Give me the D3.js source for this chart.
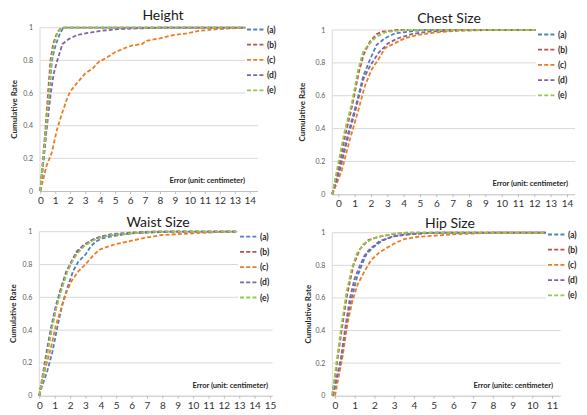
<!DOCTYPE html>
<html>
<head>
<meta charset="utf-8">
<script src="https://cdn.jsdelivr.net/npm/d3@7"></script>
<style>
  body { margin: 0; background: #fff; }
  text { font-family: Lato, "Open Sans", sans-serif; }
</style>
</head>
<body>
<div id="chart"></div>
<script>
// series names and colours
const seriesNames = ["(a)", "(b)", "(c)", "(d)", "(e)"];
const seriesColors = ["#4F81BD", "#C0504D", "#EE7B22", "#8064A2", "#92C84E"];
const yTicks = [0, 0.2, 0.4, 0.6, 0.8, 1];

// Height  (error in cm, cumulative rate)
const heightA = [[0,0],[0.22,0.2],[0.42,0.4],[0.6,0.6],[0.78,0.8],[0.95,0.87],[1.13,0.92],[1.3,0.96],[1.53,1],[13.7,1]];
const heightB = [[0,0],[0.18,0.2],[0.36,0.4],[0.52,0.6],[0.68,0.8],[0.86,0.9],[1.04,0.95],[1.2,0.98],[1.43,1],[13.7,1]];
const heightC = [[0,0],[0.07,0.025],[0.4,0.15],[0.75,0.23],[1.1,0.37],[1.43,0.47],[1.77,0.56],[2,0.61],[2.45,0.66],[3,0.72],[3.5,0.75],[3.9,0.79],[4.5,0.82],[5,0.85],[5.5,0.87],[6.1,0.89],[6.8,0.9],[7.1,0.92],[8,0.935],[8.9,0.955],[9.8,0.965],[10.6,0.98],[11.7,0.99],[12.8,0.996],[13.7,1]];
const heightD = [[0,0],[0.23,0.2],[0.45,0.4],[0.7,0.6],[0.9,0.72],[1.14,0.8],[1.48,0.9],[1.9,0.93],[2.45,0.955],[3,0.965],[4,0.98],[5,0.99],[6,0.994],[7,0.997],[8,1],[13.7,1]];
const heightE = [[0,0],[0.2,0.2],[0.4,0.4],[0.58,0.6],[0.74,0.8],[0.92,0.9],[1.12,0.96],[1.32,0.99],[1.58,1],[13.7,1]];

// Chest size
const chestA = [[-0.37,0],[0.1,0.17],[0.6,0.37],[1.1,0.55],[1.53,0.72],[1.94,0.82],[2.35,0.91],[2.86,0.95],[3.47,0.98],[4.3,0.99],[5.3,1],[12.1,1]];
const chestB = [[-0.37,0],[0.05,0.18],[0.45,0.37],[0.85,0.54],[1.25,0.74],[1.55,0.85],[1.94,0.93],[2.35,0.975],[2.7,0.99],[3.2,0.995],[3.6,1],[12.1,1]];
const chestC = [[-0.37,0],[0.2,0.14],[0.7,0.33],[1.22,0.51],[1.63,0.66],[2.04,0.76],[2.45,0.82],[2.86,0.89],[3.47,0.92],[4.08,0.95],[4.9,0.97],[5.9,0.985],[7.3,0.995],[9.4,1],[12.1,1]];
const chestD = [[-0.37,0],[0.1,0.15],[0.6,0.35],[1.1,0.53],[1.53,0.7],[1.94,0.78],[2.45,0.86],[3.06,0.92],[3.67,0.95],[4.5,0.975],[5.5,0.99],[7.3,1],[12.1,1]];
const chestE = [[-0.37,0],[0,0.19],[0.4,0.39],[0.82,0.55],[1.22,0.76],[1.53,0.87],[1.94,0.92],[2.35,0.96],[2.86,0.985],[3.5,0.995],[4.2,1],[12.1,1]];

// Waist size
const waistA = [[0,0],[0.15,0.05],[0.52,0.15],[0.86,0.27],[1.2,0.43],[1.53,0.57],[1.87,0.67],[2.2,0.76],[2.55,0.82],[3,0.86],[3.34,0.91],[3.68,0.94],[4.1,0.96],[4.9,0.975],[6,0.99],[7.2,0.995],[8.5,1],[12.8,1]];
const waistB = [[0,0],[0.42,0.22],[0.78,0.4],[1.1,0.54],[1.44,0.66],[1.78,0.75],[2.12,0.82],[2.47,0.875],[2.9,0.915],[3.45,0.95],[4,0.97],[4.7,0.98],[6,0.99],[7.5,1],[12.8,1]];
const waistC = [[0,0],[0.4,0.17],[0.75,0.29],[1.08,0.43],[1.42,0.53],[1.76,0.63],[2.1,0.7],[2.55,0.76],[3,0.8],[3.45,0.85],[3.9,0.89],[4.5,0.91],[5,0.925],[6,0.945],[7,0.965],[8,0.98],[9,0.985],[10,0.99],[11,0.995],[12,1],[12.8,1]];
const waistD = [[0,0],[0.4,0.23],[0.75,0.41],[1.08,0.55],[1.42,0.66],[1.76,0.76],[2.1,0.82],[2.44,0.88],[2.9,0.92],[3.45,0.95],[4,0.97],[4.7,0.985],[6,0.995],[7.2,1],[12.8,1]];
const waistE = [[0,0],[0.45,0.22],[0.8,0.4],[1.12,0.54],[1.46,0.65],[1.8,0.75],[2.15,0.82],[2.5,0.87],[2.9,0.91],[3.45,0.945],[4,0.965],[4.7,0.98],[6,0.99],[7.5,1],[12.8,1]];

// Hip size
const hipA = [[-0.1,0],[0.34,0.23],[0.59,0.44],[0.85,0.6],[1.1,0.72],[1.35,0.8],[1.6,0.87],[1.94,0.91],[2.37,0.95],[2.88,0.975],[3.56,0.99],[4.6,0.998],[5.5,1],[10.7,1]];
const hipB = [[-0.14,0],[0.1,0.2],[0.36,0.42],[0.6,0.61],[0.93,0.8],[1.27,0.9],[1.69,0.955],[2.2,0.975],[2.9,0.99],[3.6,1],[10.7,1]];
const hipC = [[0,0],[0.37,0.23],[0.63,0.44],[0.88,0.58],[1.14,0.68],[1.48,0.76],[1.82,0.83],[2.25,0.88],[2.67,0.91],[3.1,0.94],[3.5,0.96],[4.2,0.975],[4.85,0.98],[6,0.99],[7,0.995],[8,1],[10.7,1]];
const hipD = [[-0.12,0],[0.3,0.23],[0.55,0.44],[0.76,0.6],[1,0.72],[1.27,0.8],[1.5,0.86],[1.77,0.9],[2.28,0.95],[3.05,0.98],[3.8,0.99],[5,1],[10.7,1]];
const hipE = [[-0.14,0],[0.08,0.21],[0.34,0.44],[0.59,0.64],[0.85,0.78],[1.1,0.87],[1.44,0.93],[1.86,0.96],[2.37,0.98],[3.05,0.995],[3.9,1],[10.7,1]];

const titles = ["Height", "Chest Size", "Waist Size", "Hip Size"];
const xTitles = ["Error (unit: centimeter)", "Error (unit: centimeter)", "Error (unit: centimeter)", "Error (unite: centimeter)"];
const xMaxLabels = [14, 14, 15, 11];

// layout of each panel (pixels)
const panels = [
  {series: [heightA, heightB, heightC, heightD, heightE], left: 40, right: 258, top: 27.7, bottom: 191,
   x0: 40.3, x1: 249.7, titleX: 163, titleY: 20, yTitleX: 17, xTitleX: 245, legX: 247, legY: 29.5},
  {series: [chestA, chestB, chestC, chestD, chestE], left: 332.3, right: 575, top: 30, bottom: 194.3,
   x0: 338.3, x1: 567, titleX: 449, titleY: 22.5, yTitleX: 305, xTitleX: 568, legX: 538, legY: 34.5},
  {series: [waistA, waistB, waistC, waistD, waistE], left: 39.3, right: 272.7, top: 231.7, bottom: 395.7,
   x0: 39.3, x1: 270, titleX: 158, titleY: 227, yTitleX: 16, xTitleX: 268, legX: 240, legY: 236.7},
  {series: [hipA, hipB, hipC, hipD, hipE], left: 332.3, right: 560.7, top: 232.7, bottom: 395.7,
   x0: 335, x1: 552, titleX: 450, titleY: 227.5, yTitleX: 310.5, xTitleX: 553, legX: 548, legY: 234.5}
];

const svg = d3.select("#chart").append("svg")
  .attr("width", 587)
  .attr("height", 415);

panels.forEach((p, i) => {
  const g = svg.append("g");
  const xMax = xMaxLabels[i];
  const x = d3.scaleLinear().domain([0, xMax]).range([p.x0, p.x1]);
  const y = d3.scaleLinear().domain([0, 1]).range([p.bottom, p.top]);

  // gridlines
  g.append("g").selectAll("line")
    .data(yTicks.filter(t => t > 0))
    .enter().append("line")
    .attr("x1", p.left).attr("x2", p.right)
    .attr("y1", d => y(d)).attr("y2", d => y(d))
    .style("stroke", "#D9D9D9").style("stroke-width", 1);

  // y axis line
  g.append("line")
    .attr("x1", p.left).attr("x2", p.left)
    .attr("y1", p.top).attr("y2", p.bottom)
    .style("stroke", "#D9D9D9");

  // x axis
  const xAxis = d3.axisBottom(x)
    .tickValues(d3.range(0, xMax + 1))
    .tickSize(3)
    .tickPadding(3)
    .tickFormat(d3.format("d"));
  const ax = g.append("g")
    .attr("transform", "translate(0," + p.bottom + ")")
    .call(xAxis);
  ax.select(".domain").attr("d", "M" + p.left + ",0.5H" + p.right).style("stroke", "#BFBFBF");
  ax.selectAll(".tick line").style("stroke", "#BFBFBF");
  ax.selectAll(".tick text")
    .style("font-size", "10px").style("fill", "#333")
    .style("font-family", "Lato, 'Open Sans', sans-serif");

  // y tick labels
  g.append("g").selectAll("text")
    .data(yTicks)
    .enter().append("text")
    .attr("x", p.left - 7)
    .attr("y", d => y(d) + 2.5)
    .attr("text-anchor", "end")
    .style("font-size", "7px")
    .style("fill", "#595959")
    .text(d => d);

  // titles
  g.append("text")
    .attr("x", p.titleX).attr("y", p.titleY)
    .attr("text-anchor", "middle")
    .style("font-size", "14px").style("fill", "#1a1a1a")
    .text(titles[i]);

  g.append("text")
    .attr("transform", "translate(" + p.yTitleX + "," + ((p.top + p.bottom) / 2) + ") rotate(-90)")
    .attr("text-anchor", "middle")
    .style("font-size", "8px").style("font-weight", "bold").style("fill", "#262626")
    .text("Cumulative Rate");

  g.append("text")
    .attr("x", p.xTitleX).attr("y", p.bottom - 8)
    .attr("text-anchor", "end")
    .style("font-size", "7.5px").style("font-weight", "bold").style("fill", "#262626")
    .text(xTitles[i]);

  // legend box hides the gridlines under it
  const legDy = 15.2;
  g.append("rect")
    .attr("x", p.legX - 2).attr("y", p.legY - 6)
    .attr("width", p.right - p.legX + 4).attr("height", legDy * 4 + 12)
    .style("fill", "#fff");

  // curves
  const line = d3.line().x(d => x(d[0])).y(d => y(d[1]));
  g.append("g").selectAll("path")
    .data(p.series)
    .enter().append("path")
    .attr("d", line)
    .style("fill", "none")
    .style("stroke", (d, k) => seriesColors[k])
    .style("stroke-width", 1.8)
    .style("stroke-dasharray", "4,2.2");

  // legend
  const leg = g.append("g").selectAll("g")
    .data(seriesNames)
    .enter().append("g")
    .attr("transform", (d, k) => "translate(" + p.legX + "," + (p.legY + k * legDy) + ")");
  leg.append("line")
    .attr("x1", 0).attr("x2", 17)
    .style("stroke", (d, k) => seriesColors[k])
    .style("stroke-width", 1.8)
    .style("stroke-dasharray", "4,2.2");
  leg.append("text")
    .attr("x", 20).attr("y", 3)
    .style("font-size", "8.5px").style("font-weight", "bold").style("fill", "#262626")
    .text(d => d);
});
</script>
</body>
</html>
